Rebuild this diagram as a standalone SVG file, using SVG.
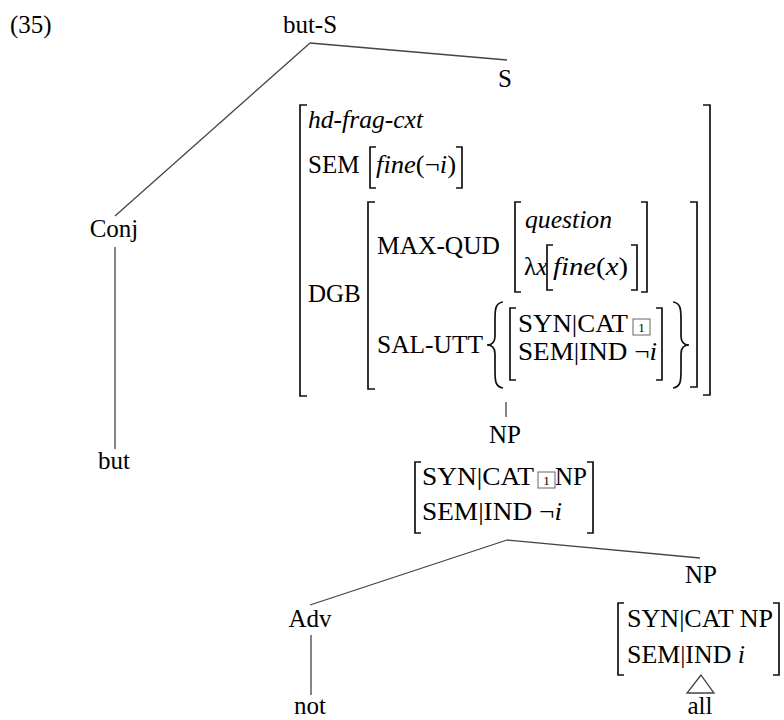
<svg xmlns="http://www.w3.org/2000/svg" width="784" height="720" viewBox="0 0 784 720">
<style>
text{font-family:"Liberation Serif","Times New Roman",serif;font-size:25px;fill:#000}
.it{font-style:italic}
.m{text-anchor:middle}
.br{fill:none;stroke:#111;stroke-width:1.7}
#connectors line,#connectors polygon{fill:none;stroke:#444;stroke-width:1.3}
.box{fill:none;stroke:#666;stroke-width:1}
.sm{font-size:13px}
</style>
<rect width="784" height="720" fill="#fff"/>
<text x="10" y="33">(35)</text>
<g id="connectors">
<line x1="310" y1="43" x2="115" y2="216"/>
<line x1="310" y1="43" x2="507" y2="60"/>
<line x1="115" y1="247" x2="115" y2="449"/>
<line x1="506" y1="402" x2="506" y2="417"/>
<line x1="507" y1="540" x2="310" y2="605"/>
<line x1="507" y1="540" x2="700" y2="558"/>
<line x1="311" y1="635" x2="311" y2="695"/>
<polygon points="701,675 687,693 714,693"/>
</g>
<g id="butS"><text class="m" x="310" y="33">but-S</text></g>
<g id="conj"><text class="m" x="114" y="237">Conj</text></g>
<g id="but"><text class="m" x="114" y="469">but</text></g>
<g id="S">
<text class="m" x="505" y="87">S</text>
<path class="br" d="M307,105 H300 V396 H307"/>
<path class="br" d="M703,105 H710 V395 H703"/>
<text class="it" x="308" y="128" textLength="115" lengthAdjust="spacingAndGlyphs">hd-frag-cxt</text>
<text x="308" y="173">SEM</text>
<path class="br" d="M376,147 H370 V188 H376"/>
<path class="br" d="M456,147 H462 V188 H456"/>
<text x="376" y="173" textLength="80" lengthAdjust="spacingAndGlyphs"><tspan class="it">fine</tspan>(¬<tspan class="it">i</tspan>)</text>
<text x="308" y="302">DGB</text>
<path class="br" d="M375,202 H368 V389 H375"/>
<path class="br" d="M690,202 H697 V387 H690"/>
<text x="377" y="254" textLength="123" lengthAdjust="spacingAndGlyphs">MAX-QUD</text>
<path class="br" d="M521,202 H515 V292 H521"/>
<path class="br" d="M641,202 H647 V292 H641"/>
<text class="it" x="525" y="228" textLength="87" lengthAdjust="spacingAndGlyphs">question</text>
<text x="524" y="275">λ<tspan class="it">x</tspan></text>
<path class="br" d="M553,245 H547 V290 H553"/>
<path class="br" d="M631,245 H637 V290 H631"/>
<text x="553" y="275" textLength="75" lengthAdjust="spacingAndGlyphs"><tspan class="it">fine</tspan>(<tspan class="it">x</tspan>)</text>
<text x="377" y="353" textLength="106" lengthAdjust="spacingAndGlyphs">SAL-UTT</text>
<path class="br" d="M503,302 C495,303 495,310 495,320 L495,336 C495,342 492,345 487,345 C492,345 495,348 495,354 L495,370 C495,380 495,387 503,388"/>
<path class="br" d="M516,308 H510 V380 H516"/>
<path class="br" d="M656,308 H662 V380 H656"/>
<text x="518" y="332" textLength="110" lengthAdjust="spacingAndGlyphs">SYN|CAT</text>
<rect class="box" x="633" y="319" width="17" height="16"/>
<text class="m sm" x="641.5" y="332">1</text>
<text x="518" y="360" textLength="139" lengthAdjust="spacingAndGlyphs">SEM|IND ¬<tspan class="it">i</tspan></text>
<path class="br" d="M673,302 C681,303 681,310 681,320 L681,336 C681,342 684,345 689,345 C684,345 681,348 681,354 L681,370 C681,380 681,387 673,388"/>
</g>
<g id="NP1">
<text class="m" x="505" y="443">NP</text>
<path class="br" d="M421,462 H415 V533 H421"/>
<path class="br" d="M587,462 H593 V533 H587"/>
<text x="422" y="485" textLength="112" lengthAdjust="spacingAndGlyphs">SYN|CAT</text>
<rect class="box" x="538" y="472" width="17" height="16"/>
<text class="m sm" x="546.5" y="485">1</text>
<text x="555" y="485">NP</text>
<text x="422" y="520" textLength="140" lengthAdjust="spacingAndGlyphs">SEM|IND ¬<tspan class="it">i</tspan></text>
</g>
<g id="adv"><text class="m" x="310" y="627">Adv</text></g>
<g id="not"><text class="m" x="310" y="714">not</text></g>
<g id="NP2">
<text class="m" x="701" y="583">NP</text>
<path class="br" d="M624,603 H618 V675 H624"/>
<path class="br" d="M773,603 H779 V675 H773"/>
<text x="627" y="627" textLength="146" lengthAdjust="spacingAndGlyphs">SYN|CAT NP</text>
<text x="627" y="663" textLength="118" lengthAdjust="spacingAndGlyphs">SEM|IND <tspan class="it">i</tspan></text>
</g>
<g id="all"><text class="m" x="700" y="714">all</text></g>
</svg>
